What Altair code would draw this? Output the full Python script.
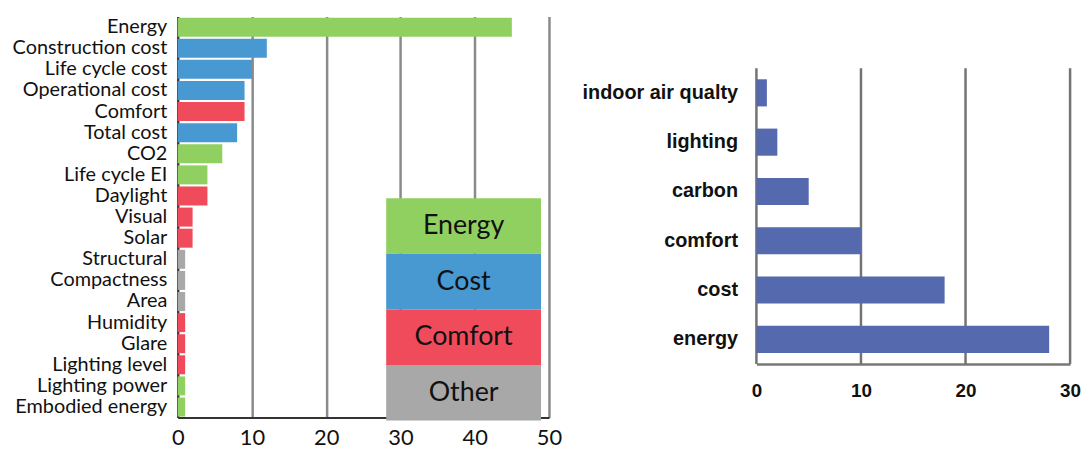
import altair as alt
import pandas as pd

# ---- left chart data ----
metrics = ["Energy", "Construction cost", "Life cycle cost", "Operational cost", "Comfort",
           "Total cost", "CO2", "Life cycle EI", "Daylight", "Visual", "Solar", "Structural",
           "Compactness", "Area", "Humidity", "Glare", "Lighting level", "Lighting power",
           "Embodied energy"]
counts = [45, 12, 10, 9, 9, 8, 6, 4, 4, 2, 2, 1, 1, 1, 1, 1, 1, 1, 1]
metric_groups = ["Energy", "Cost", "Cost", "Cost", "Comfort", "Cost", "Energy", "Energy",
                 "Comfort", "Comfort", "Comfort", "Other", "Other", "Other", "Comfort",
                 "Comfort", "Comfort", "Energy", "Energy"]
groups = ["Energy", "Cost", "Comfort", "Other"]
group_colors = ["#90d060", "#4898d2", "#f04b5b", "#a8a8a8"]
left_ticks = [0, 10, 20, 30, 40, 50]

# ---- right chart data ----
topics = ["indoor air qualty", "lighting", "carbon", "comfort", "cost", "energy"]
topic_counts = [1, 2, 5, 10, 18, 28]
right_ticks = [0, 10, 20, 30]

df_left = pd.DataFrame({"metric": metrics, "count": counts, "group": metric_groups})
df_legend = pd.DataFrame({"group": groups})
df_right = pd.DataFrame({"topic": topics, "count": topic_counts})
df_rticks = pd.DataFrame({"tick": right_ticks})

LFONT = "Lato"
color_scale = alt.Scale(domain=groups, range=group_colors)

bars = alt.Chart(df_left).mark_bar().encode(
    y=alt.Y("metric:N", sort=metrics,
            scale=alt.Scale(paddingInner=0.1, paddingOuter=0.05),
            axis=alt.Axis(title=None, labelFont=LFONT, labelFontSize=20, labelColor="#111",
                          labelPadding=11, ticks=False, domainColor="#333", domainWidth=2,
                          labelOverlap=False, minExtent=171, maxExtent=171)),
    x=alt.X("count:Q",
            scale=alt.Scale(domain=[0, 50], nice=False),
            axis=alt.Axis(title=None, values=left_ticks, labelFont=LFONT, labelFontSize=22,
                          labelColor="#111", labelPadding=10, ticks=False, grid=True,
                          gridColor="#8a8a8a", gridWidth=2.5, domainColor="#333",
                          domainWidth=2, labelFlush=False)),
    color=alt.Color("group:N", scale=color_scale, legend=None),
)

leg_y = alt.Y("group:N", sort=groups,
              scale=alt.Scale(range=[183, 407], paddingInner=0, paddingOuter=0),
              axis=None)

leg_rect = alt.Chart(df_legend).mark_rect().encode(
    y=leg_y,
    x=alt.value(210), x2=alt.value(366),
    color=alt.Color("group:N", scale=color_scale, legend=None),
)
leg_text = alt.Chart(df_legend).mark_text(font=LFONT, fontSize=27, color="#111",
                                          align="center", baseline="middle").encode(
    y=leg_y,
    x=alt.value(288),
    text="group:N",
)

left = alt.layer(bars, leg_rect, leg_text).resolve_scale(y="independent").properties(
    width=374, height=404)

RFONT = "Liberation Sans"
rx_scale = alt.Scale(domain=[0, 30], nice=False)
rx_axis = alt.Axis(title=None, values=right_ticks, labelFont=RFONT,
                   labelFontWeight="bold", labelFontSize=19, labelColor="#111",
                   labelPadding=18, ticks=False, grid=False, domainColor="#777",
                   domainWidth=2.5, labelFlush=False)

r_grid = alt.Chart(df_rticks).mark_rule(color="#737373", strokeWidth=2.5).encode(
    x=alt.X("tick:Q", scale=rx_scale, axis=rx_axis),
    y=alt.value(52), y2=alt.value(350),
)

r_bars = alt.Chart(df_right).mark_bar(color="#5569ae").encode(
    y=alt.Y("topic:N", sort=topics,
            scale=alt.Scale(range=[52, 350], paddingInner=0.45, paddingOuter=0.225),
            axis=alt.Axis(title=None, labelFont=RFONT, labelFontWeight="bold",
                          labelFontSize=20, labelColor="#111", labelPadding=19,
                          ticks=False, domain=False,
                          minExtent=177, maxExtent=177)),
    x=alt.X("count:Q", scale=rx_scale, axis=rx_axis),
)

right = alt.layer(r_grid, r_bars).properties(width=316, height=350)

chart = alt.hconcat(left, right, spacing=19).properties(
    padding={"top": 7, "left": 0, "right": 0, "bottom": 0}
).configure_view(stroke=None)

chart.save("out.html", embed_options={"renderer": "svg", "actions": False})
